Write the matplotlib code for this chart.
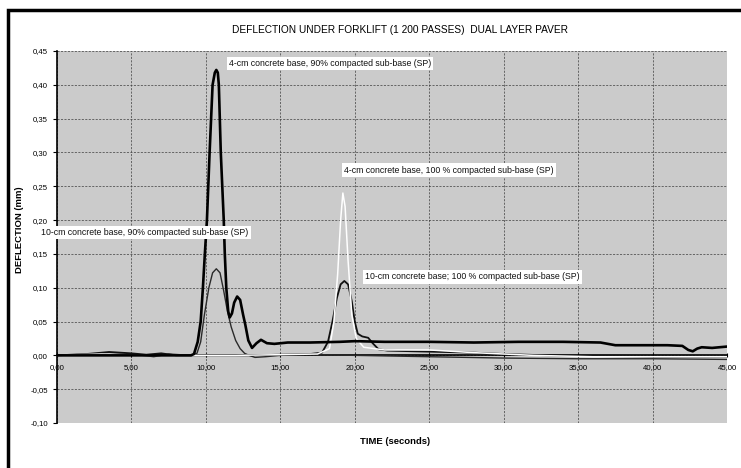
import matplotlib
matplotlib.use('Agg')
import matplotlib.pyplot as plt
from matplotlib.patches import Rectangle

plt.rcParams['font.family'] = ['Liberation Sans', 'DejaVu Sans']

# 4-cm concrete base, 90% compacted sub-base (thick black)
t_4cm_90 = [0, 2, 4, 6, 8, 9.0, 9.2, 9.45, 9.65, 9.8, 9.93, 10.07, 10.25, 10.45, 10.6, 10.7,
            10.8, 10.87, 11.0, 11.2, 11.27, 11.37, 11.5, 11.6, 11.75, 11.9, 12.1, 12.3, 12.5,
            12.65, 12.85, 13.1, 13.4, 13.7, 14.1, 14.6, 15.5, 17, 19, 20, 22, 25, 28, 31, 34,
            36.5, 37.5, 39, 41, 42.0, 42.4, 42.7, 43.0, 43.3, 44, 45]
d_4cm_90 = [0, 0, 0, 0, 0, 0, 0.002, 0.02, 0.05, 0.10, 0.15, 0.20, 0.30, 0.40, 0.418, 0.422,
            0.418, 0.40, 0.30, 0.20, 0.15, 0.10, 0.065, 0.056, 0.062, 0.078, 0.087, 0.082, 0.06,
            0.045, 0.022, 0.011, 0.018, 0.023, 0.018, 0.017, 0.019, 0.019, 0.020, 0.021, 0.020,
            0.020, 0.019, 0.020, 0.020, 0.019, 0.015, 0.015, 0.015, 0.014, 0.008, 0.006, 0.010,
            0.012, 0.011, 0.013]

# 4-cm concrete base, 100 % compacted sub-base (white)
t_4cm_100 = [0, 3, 6, 9, 12, 15, 17.5, 18.3, 18.6, 18.85, 19.05, 19.2, 19.35, 19.55, 19.8, 20.1,
             20.6, 22, 25, 28, 32, 36, 40, 45]
d_4cm_100 = [0, 0.002, 0, 0, 0, 0.001, 0.002, 0.01, 0.05, 0.12, 0.20, 0.24, 0.22, 0.14, 0.06,
             0.025, 0.012, 0.008, 0.008, 0.004, 0.0, -0.002, -0.002, -0.002]

# 10-cm concrete base, 90% compacted sub-base (grey)
t_10cm_90 = [0, 2, 3.5, 5, 6.5, 7.5, 9.0, 9.4, 9.65, 9.9, 10.2, 10.45, 10.7, 10.95, 11.2, 11.45,
             11.7, 12.0, 12.3, 12.6, 12.9, 13.3, 14, 15, 17, 20, 25, 30, 35, 40, 45]
d_10cm_90 = [0, 0.001, 0.004, 0.002, -0.002, 0.002, 0, 0.003, 0.02, 0.06, 0.10, 0.122, 0.128,
             0.122, 0.095, 0.065, 0.042, 0.022, 0.01, 0.003, 0.0, -0.003, -0.002, 0.0, 0.001,
             0.0, -0.002, -0.004, -0.005, -0.005, -0.006]

# 10-cm concrete base; 100 % compacted sub-base (black)
t_10cm_100 = [0, 2, 3.5, 5, 6, 7, 8, 9, 11, 13, 15, 17, 17.8, 18.2, 18.5, 18.8, 19.05, 19.3,
              19.55, 19.8, 20.0, 20.2, 20.5, 20.9, 21.2, 21.6, 22.2, 24, 26, 28, 30, 33, 36,
              40, 45]
d_10cm_100 = [0, 0.002, 0.005, 0.003, 0.001, 0.003, 0.0, 0, 0, 0, 0.001, 0.002, 0.004, 0.02,
              0.05, 0.085, 0.105, 0.11, 0.105, 0.08, 0.05, 0.032, 0.028, 0.026, 0.018, 0.009,
              0.007, 0.006, 0.005, 0.004, 0.002, 0.0, -0.001, -0.002, -0.002]

x_ticks = [0, 5, 10, 15, 20, 25, 30, 35, 40, 45]
x_tick_labels = ['0,00', '5,00', '10,00', '15,00', '20,00', '25,00', '30,00', '35,00',
                 '40,00', '45,00']
y_ticks = [-0.10, -0.05, 0.0, 0.05, 0.10, 0.15, 0.20, 0.25, 0.30, 0.35, 0.40, 0.45]
y_tick_labels = ['-0,10', '-0,05', '0,00', '0,05', '0,10', '0,15', '0,20', '0,25', '0,30',
                 '0,35', '0,40', '0,45']

fig = plt.figure(figsize=(7.41, 4.68), dpi=100)
ax = fig.add_axes([57 / 741, 1 - 423 / 468, 670 / 741, 372 / 468])
ax.set_facecolor('#cbcbcb')

ax.plot(t_10cm_90, d_10cm_90, color='#2a2a2a', lw=1.0, zorder=3)
ax.plot(t_10cm_100, d_10cm_100, color='#111111', lw=1.3, zorder=3)
ax.plot(t_4cm_100, d_4cm_100, color='white', lw=1.1, zorder=3)
ax.plot(t_4cm_90, d_4cm_90, color='black', lw=1.9, zorder=4)

ax.set_xlim(0, 45)
ax.set_ylim(-0.10, 0.45)
ax.set_xticks(x_ticks)
ax.set_xticklabels(x_tick_labels)
ax.set_yticks(y_ticks)
ax.set_yticklabels(y_tick_labels)
ax.tick_params(axis='both', labelsize=5.6, colors='black', length=3, width=0.8)
ax.tick_params(axis='x', direction='inout', pad=5)
ax.grid(True, color='#3c3c3c', lw=0.5, linestyle=(0, (3, 2)))
ax.set_axisbelow(True)

for side in ['top', 'right']:
    ax.spines[side].set_visible(False)
ax.spines['bottom'].set_position(('data', 0))
ax.spines['bottom'].set_linewidth(1.2)
ax.spines['left'].set_linewidth(1.2)

box = dict(facecolor='white', edgecolor='none', pad=1.5)
lbl = dict(fontsize=6.3, color='#111111', va='center', ha='left', bbox=box, zorder=6)
ax.text(11.55, 0.432, '4-cm concrete base, 90% compacted sub-base (SP)', **lbl)
ax.text(19.3, 0.274, '4-cm concrete base, 100 % compacted sub-base (SP)', **lbl)
ax.text(-1.05, 0.182, '10-cm concrete base, 90% compacted sub-base (SP)', clip_on=False, **lbl)
ax.text(20.7, 0.116, '10-cm concrete base; 100 % compacted sub-base (SP)', **lbl)

fig.text(400 / 741, 1 - 30 / 468, 'DEFLECTION UNDER FORKLIFT (1 200 PASSES)  DUAL LAYER PAVER',
         fontsize=7.3, ha='center', va='center')
fig.text(395 / 741, 1 - 441 / 468, 'TIME (seconds)', fontsize=6.8, fontweight='bold',
         ha='center', va='center')
fig.text(20 / 741, 1 - 230 / 468, 'DEFLECTION (mm)', fontsize=6.8, fontweight='bold',
         rotation=90, ha='center', va='center')

fig.patches.append(Rectangle((8 / 741, -0.02), 1.02, 1 - 10 / 468 + 0.02,
                             transform=fig.transFigure, fill=False, edgecolor='black',
                             lw=2.5, clip_on=False))

fig.savefig('out.png', dpi=100)
